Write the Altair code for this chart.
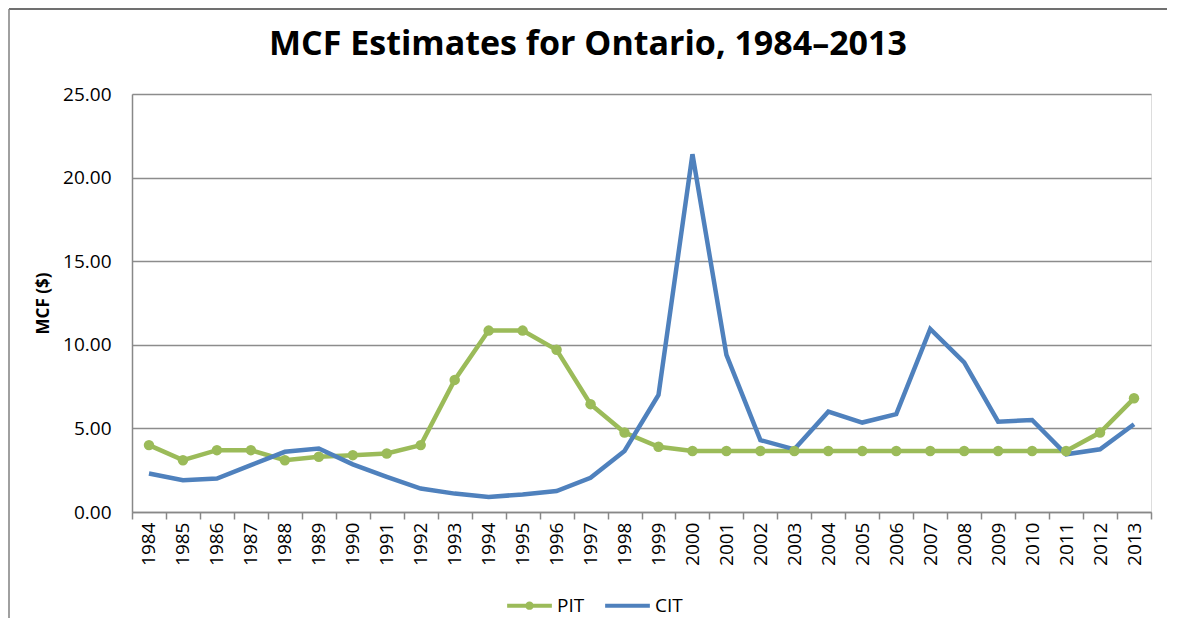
import altair as alt
import pandas as pd

years = ["1984", "1985", "1986", "1987", "1988", "1989", "1990", "1991", "1992", "1993",
         "1994", "1995", "1996", "1997", "1998", "1999", "2000", "2001", "2002", "2003",
         "2004", "2005", "2006", "2007", "2008", "2009", "2010", "2011", "2012", "2013"]

pit = [4.0, 3.1, 3.7, 3.7, 3.1, 3.3, 3.4, 3.5, 4.0, 7.9,
       10.85, 10.85, 9.7, 6.45, 4.75, 3.9, 3.65, 3.65, 3.65, 3.65,
       3.65, 3.65, 3.65, 3.65, 3.65, 3.65, 3.65, 3.65, 4.75, 6.8]

cit = [2.3, 1.9, 2.0, 2.8, 3.6, 3.8, 2.85, 2.1, 1.4, 1.1,
       0.9, 1.05, 1.25, 2.05, 3.65, 7.0, 21.4, 9.4, 4.3, 3.75,
       6.0, 5.35, 5.85, 10.95, 8.95, 5.4, 5.5, 3.45, 3.75, 5.25]

series_names = ["PIT", "CIT"]
series_colors = ["#9BBB59", "#4F81BD"]
y_ticks = [0, 5, 10, 15, 20, 25]

df = pd.DataFrame(
    {"year": years * 2,
     "value": pit + cit,
     "series": ["PIT"] * len(years) + ["CIT"] * len(years)}
)

FONT = "Open Sans"
W, H = 1019, 418

x_enc = alt.X(
    "year:O", sort=years,
    scale=alt.Scale(type="band", paddingInner=0, paddingOuter=0),
    axis=alt.Axis(title=None, labelAngle=270, labelFont=FONT, labelFontSize=19,
                  labelColor="#000000", domainColor="#888888", domainWidth=1.5,
                  tickColor="#888888", tickWidth=1.5, tickSize=7, tickBand="extent",
                  labelPadding=3, grid=False),
)
y_enc = alt.Y(
    "value:Q",
    scale=alt.Scale(domain=[0, 25], nice=False),
    axis=alt.Axis(title="MCF ($)", values=y_ticks, format=".2f", labelFont=FONT,
                  labelFontSize=19, labelColor="#000000", labelPadding=21,
                  ticks=False, domainColor="#888888", domainWidth=1.5,
                  grid=True, gridColor="#8c8c8c", gridWidth=1.5,
                  titleFont=FONT, titleFontSize=17, titleFontWeight="bold",
                  titleColor="#000000", titlePadding=10),
)
legend_shapes = [
    "M-1,0L1,0M-0.1,0A0.1,0.1 0 1,0 0.1,0A0.1,0.1 0 1,0 -0.1,0Z",
    "M-1,0L1,0",
]
legend_spec = alt.Legend(orient="none", direction="horizontal",
                         legendX=373, legendY=487,
                         symbolSize=2000, symbolStrokeWidth=4,
                         labelFont=FONT, labelFontSize=19, labelColor="#000000",
                         columnPadding=12, labelOffset=3)
color_enc = alt.Color("series:N", title=None, sort=series_names,
                      scale=alt.Scale(domain=series_names, range=series_colors),
                      legend=legend_spec)

base = alt.Chart(df)

lines = base.mark_line(strokeWidth=4.5).encode(
    x=x_enc, y=y_enc, color=color_enc,
    order=alt.Order("series:N", sort="descending"))

pit_pts = base.transform_filter(alt.datum.series == "PIT").mark_point(
    filled=True, size=110, opacity=1).encode(
    x=x_enc, y=y_enc, color=color_enc)

# adds the legend symbol shapes (no visible marks)
legend_layer = base.transform_filter(alt.datum.value < -100).mark_point(
    filled=False, strokeWidth=4).encode(
    x=x_enc, y=y_enc, color=color_enc,
    shape=alt.Shape("series:N", title=None, sort=series_names,
                    scale=alt.Scale(domain=series_names, range=legend_shapes),
                    legend=legend_spec),
)

top_border = alt.Chart(pd.DataFrame({"a": [0]})).mark_rule(
    color="#404040", strokeWidth=1.5).encode(
    x=alt.value(-123), x2=alt.value(1035), y=alt.value(-85))
left_border = alt.Chart(pd.DataFrame({"a": [0]})).mark_rule(
    color="#808080", strokeWidth=1.5).encode(
    x=alt.value(-123), y=alt.value(-85), y2=alt.value(524))

chart = alt.layer(
    top_border, left_border, lines, pit_pts, legend_layer
).properties(
    width=W, height=H, padding=0,
    title=alt.TitleParams("MCF Estimates for Ontario, 1984–2013", font=FONT,
                          fontSize=34, fontWeight="bold", color="#000000",
                          anchor="middle", frame="bounds", offset=-54),
).configure_view(stroke=None).configure(background="white")

chart.save("out.html", embed_options={"renderer": "svg", "actions": False})
